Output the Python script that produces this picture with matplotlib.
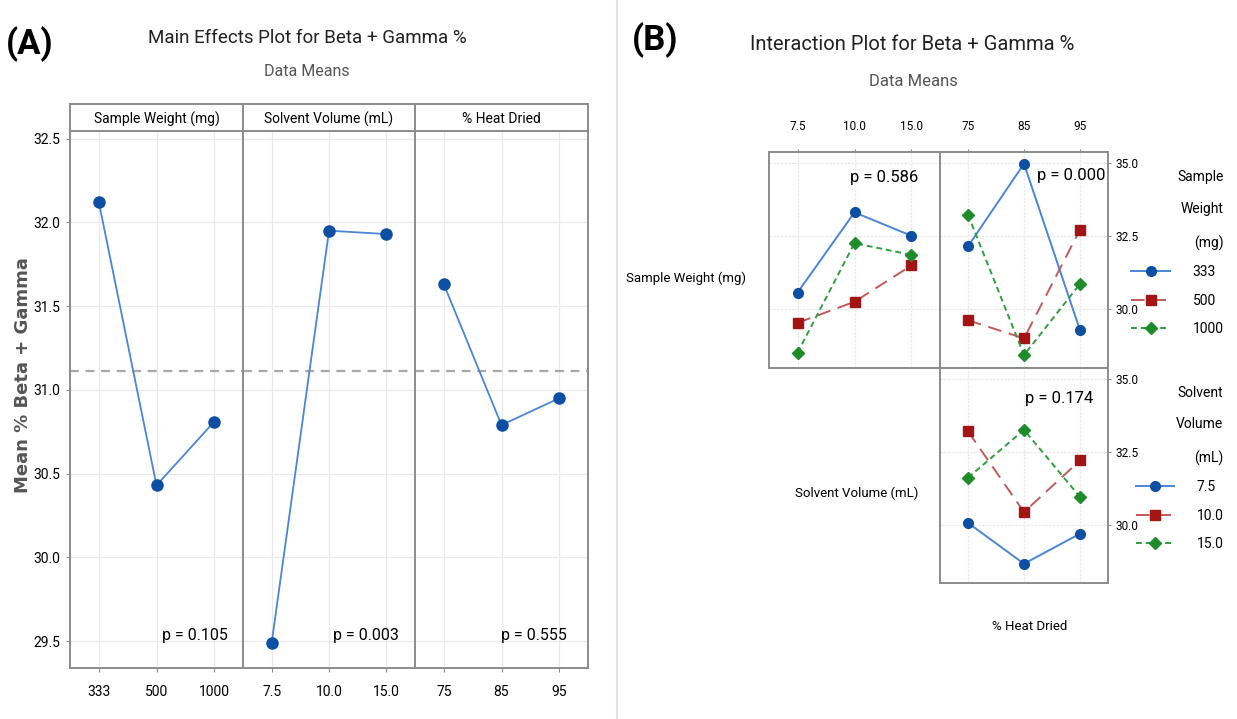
import matplotlib
matplotlib.use('Agg')
import matplotlib.pyplot as plt
from matplotlib import font_manager
from matplotlib.lines import Line2D

installed = {f.name for f in font_manager.fontManager.ttflist}
narrow = 'Liberation Sans Narrow' if 'Liberation Sans Narrow' in installed else 'Roboto'
plt.rcParams['font.family'] = [narrow, 'DejaVu Sans']

# ---- main effects data ----
factor_names = ['Sample Weight (mg)', 'Solvent Volume (mL)', '% Heat Dried']
sw_levels = ['333', '500', '1000']
sv_levels = ['7.5', '10.0', '15.0']
hd_levels = ['75', '85', '95']
sw_means = [32.12, 30.43, 30.81]
sv_means = [29.49, 31.95, 31.93]
hd_means = [31.63, 30.79, 30.95]
grand_mean = 31.11
p_main = ['0.105', '0.003', '0.555']

# ---- interaction data ----
sw_by_sv = {'333': [30.57, 33.31, 32.51], '500': [29.54, 30.26, 31.50], '1000': [28.52, 32.26, 31.86]}
sw_by_hd = {'333': [32.15, 34.97, 29.29], '500': [29.63, 29.01, 32.72], '1000': [33.23, 28.44, 30.87]}
sv_by_hd = {'7.5': [30.06, 28.66, 29.69], '10.0': [33.20, 30.43, 32.20], '15.0': [31.61, 33.25, 30.95]}
p_inter = ['0.586', '0.000', '0.174']

W, H = 1237, 719
fig = plt.figure(figsize=(W / 100, H / 100), dpi=100)


def px_axes(x0, y0, x1, y1):
    return fig.add_axes([x0 / W, 1 - y1 / H, (x1 - x0) / W, (y1 - y0) / H])


frame = '#8c8c8c'
grid_c = '#e9e9e9'

# ================= (A) main effects =================
edges = [70, 243, 415, 588]
levels = [sw_levels, sv_levels, hd_levels]
means = [sw_means, sv_means, hd_means]
p_pos = [0.913, 0.907, 0.879]
for i in range(3):
    ax = px_axes(edges[i], 131, edges[i + 1], 668)
    xs = range(len(levels[i]))
    ax.plot(xs, means[i], color='#4a86d6', lw=1.3, marker='o', ms=8,
            mfc='#0d4fa3', mec='#0d4fa3', zorder=3)
    ax.axhline(grand_mean, color='#a8a8a8', ls=(0, (4, 3)), lw=1.6)
    ax.set_xlim(-0.5, 2.5)
    ax.set_ylim(29.34, 32.545)
    ax.set_xticks(list(xs), levels[i])
    ax.set_yticks([29.5, 30.0, 30.5, 31.0, 31.5, 32.0, 32.5])
    ax.yaxis.set_major_formatter(matplotlib.ticker.FormatStrFormatter('%.1f'))
    ax.grid(color=grid_c, lw=0.9)
    ax.set_axisbelow(True)
    ax.tick_params(labelsize=10, length=3, color=frame)
    ax.tick_params(axis='x', pad=9)
    ax.tick_params(axis='y', pad=4)
    if i > 0:
        ax.tick_params(axis='y', length=0, labelleft=False)
    for s in ax.spines.values():
        s.set_color(frame)
        s.set_linewidth(1.4)
    ax.text(p_pos[i], 0.061, 'p = ' + p_main[i], transform=ax.transAxes,
            ha='right', va='center', fontsize=11.5)

    sax = px_axes(edges[i], 104, edges[i + 1], 131)
    sax.set_xticks([])
    sax.set_yticks([])
    for s in sax.spines.values():
        s.set_color(frame)
        s.set_linewidth(1.4)
    sax.text(0.5, 0.45, factor_names[i], ha='center', va='center', fontsize=10)

fig.text(23 / W, 1 - 375 / H, 'Mean % Beta + Gamma', rotation=90, family='DejaVu Sans',
         weight='bold', color='#555555', fontsize=13, ha='center', va='center')
fig.text(307 / W, 1 - 38 / H, 'Main Effects Plot for Beta + Gamma %', ha='center',
         va='center', fontsize=13.5, color='#222222')
fig.text(307 / W, 1 - 71 / H, 'Data Means', ha='center', va='center', fontsize=11.5,
         color='#555555')
fig.text(30 / W, 1 - 44 / H, '(A)', ha='center', va='center', fontsize=25, weight='bold')

fig.add_artist(Line2D([617 / W, 617 / W], [0, 1], color='#e3e3e3', lw=1.5,
                      transform=fig.transFigure))

# ================= (B) interaction =================
styles = [
    dict(color='#4a86d6', ls='-', marker='o', ms=7, mfc='#0d4fa3', mec='#0d4fa3'),
    dict(color='#c25a5a', ls=(0, (7, 4)), marker='s', ms=6.5, mfc='#a31515', mec='#a31515'),
    dict(color='#2e9e3e', ls=(0, (3, 2)), marker='D', ms=6.5, mfc='#1e8c2a', mec='#1e8c2a'),
]

panels = [
    (px_axes(769, 152, 940, 368), sv_levels, sw_by_sv, p_inter[0], 0.87, 0.88),
    (px_axes(940, 152, 1108, 368), hd_levels, sw_by_hd, p_inter[1], 0.985, 0.89),
    (px_axes(940, 368, 1108, 583), hd_levels, sv_by_hd, p_inter[2], 0.91, 0.86),
]
for k, (ax, xl, series, p, px, py) in enumerate(panels):
    xs = range(len(xl))
    for st, (name, vals) in zip(styles, series.items()):
        ax.plot(xs, vals, lw=1.4, label=name, **st)
    ax.set_xlim(-0.5, 2.5)
    ax.set_ylim(28.0, 35.37)
    ax.set_xticks(list(xs), xl)
    ax.set_yticks([30.0, 32.5, 35.0])
    ax.yaxis.set_major_formatter(matplotlib.ticker.FormatStrFormatter('%.1f'))
    ax.grid(color=grid_c, lw=0.9, ls=(0, (2, 1)))
    ax.set_axisbelow(True)
    ax.tick_params(labelsize=8.5, length=2.5, color=frame, pad=3)
    for s in ax.spines.values():
        s.set_color(frame)
        s.set_linewidth(1.4)
    if k < 2:
        ax.xaxis.tick_top()
        ax.tick_params(axis='x', pad=11)
    else:
        ax.tick_params(axis='x', length=0, labelbottom=False)
    if k == 0:
        ax.tick_params(axis='y', length=0, labelleft=False)
    else:
        ax.yaxis.tick_right()
    ax.text(px, py, 'p = ' + p, transform=ax.transAxes, ha='right', va='center',
            fontsize=12)

for ax, title, y in [(panels[1][0], 'Sample\nWeight\n(mg)', 1 - 158 / H),
                     (panels[2][0], 'Solvent\nVolume\n(mL)', 1 - 373 / H)]:
    h, l = ax.get_legend_handles_labels()
    leg = fig.legend(h, l, title=title, loc='upper right', bbox_to_anchor=(1236 / W, y),
                     frameon=False, fontsize=10, title_fontsize=10, handlelength=2.8,
                     handletextpad=1.6, labelspacing=1.05, alignment='right')
    leg.get_title().set_multialignment('right')
    leg.get_title().set_linespacing(2.6)

fig.text(686 / W, 1 - 278 / H, 'Sample Weight (mg)', ha='center', va='center', fontsize=9.5)
fig.text(857 / W, 1 - 493 / H, 'Solvent Volume (mL)', ha='center', va='center', fontsize=9.5)
fig.text(1030 / W, 1 - 627 / H, '% Heat Dried', ha='center', va='center', fontsize=9.5)

fig.text(912 / W, 1 - 45 / H, 'Interaction Plot for Beta + Gamma %', ha='center',
         va='center', fontsize=14.5, color='#222222')
fig.text(913 / W, 1 - 82 / H, 'Data Means', ha='center', va='center', fontsize=12,
         color='#555555')
fig.text(655 / W, 1 - 40 / H, '(B)', ha='center', va='center', fontsize=25, weight='bold')

fig.savefig('out.png', dpi=100)
